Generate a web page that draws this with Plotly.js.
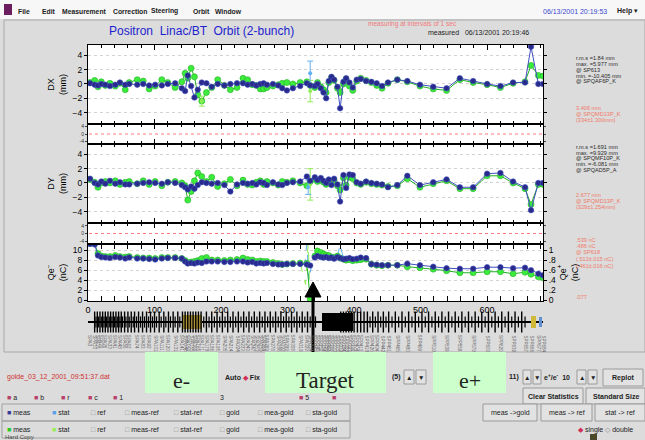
<!DOCTYPE html>
<html><head><meta charset="utf-8">
<script src="https://cdn.plot.ly/plotly-3.0.1.min.js"></script>
<style>html,body{margin:0;padding:0;background:#dcdcdc;overflow:hidden}#chart{width:645px;height:440px}</style>
</head><body><div id="chart"></div>
<script>
// ================= DATA =================
// electron-side BPM positions (m) and readings
const eX=[3,10,15,20,26,33,41,48,56,62,74,83,92,101,111,120,131,141,146,150,155,160,165,171,178,186,195,205,214,224,233,240,247,253,259,264,269,278,286,292,299,308,319,329,334];
const eDXb=[0.1,-0.1,-0.2,0.0,-0.1,-0.3,-0.1,0.2,-0.1,0.0,-0.1,0.0,-0.2,-0.1,-0.2,0.0,0.1,-0.6,-1.0,1.2,-0.3,-1.9,-0.8,0.2,0.1,-0.4,0.0,-0.2,0.0,0.1,0.1,-0.1,0.0,-0.2,0.0,0.1,-0.1,0.0,-0.2,-0.6,-0.9,-0.6,-0.3,0.1,-0.2];
const eDXg=[0.2,0.5,-0.4,0.3,-0.2,0.1,-0.3,0.1,-0.8,0.2,0.6,0.4,-0.7,-0.3,0.6,0.2,-0.5,0.3,1.5,0.8,2.2,1.0,-1.5,-2.4,-1.2,-0.5,0.6,-0.2,-0.8,-0.5,0.8,0.6,-0.1,-0.2,-0.7,-0.7,-0.5,-0.3,-0.1,0.1,0.2,0.0,0.2,0.3,-0.2];
const eDYb=[0.6,0.0,-0.2,0.2,-0.1,0.3,-0.1,0.1,-0.2,-0.2,-0.1,0.0,0.1,0.0,-0.1,0.1,0.0,-0.3,-0.6,-0.9,-0.5,-0.8,-0.3,0.1,0.0,-0.1,0.0,-0.3,-1.2,-0.2,0.0,-0.1,0.0,-0.2,0.1,0.0,-0.3,0.1,-0.2,-0.3,0.0,0.1,0.2,0.9,0.3];
const eDYg=[0.5,0.1,-0.6,0.0,0.2,0.0,0.3,-0.2,0.1,0.2,-0.1,0.3,-0.2,0.2,-0.4,0.1,0.2,0.0,-0.4,-2.4,-1.2,0.3,1.4,0.9,0.2,0.8,-0.5,-0.1,0.5,-0.4,0.4,-0.2,-0.3,0.1,0.3,-0.2,0.2,0.0,-0.3,0.2,0.1,0.3,0.0,-0.4,0.2];
const eQb=[11.3,11.2,9.0,8.7,8.6,8.5,8.7,8.6,8.4,8.6,8.4,8.4,8.3,8.2,8.4,8.5,8.5,8.4,7.8,7.4,7.5,7.4,7.6,7.5,7.8,7.8,7.8,7.7,7.7,7.8,7.8,7.6,7.7,7.4,7.5,7.4,7.5,7.3,7.2,7.2,7.3,7.3,7.3,7.2,7.0];
const eQg=[11.4,11.4,9.4,8.9,8.8,8.8,9.0,8.8,8.7,8.8,8.6,8.5,8.5,8.4,8.6,8.6,8.6,8.4,8.0,7.6,7.7,7.8,8.0,8.4,8.6,8.1,8.1,8.0,8.1,8.2,8.5,8.2,8.1,7.8,7.9,7.8,7.8,7.6,7.4,7.2,7.3,7.4,7.5,7.4,0.3];
// positron-side BPM positions and readings
const pX=[341,345,350,354,358,362,366,370,375,379,384,388,393,398,404,410,418,426,434,442,451,465,480,499,519,539,559,579,600,620,639,657,666,677,684];
const pDXb=[-0.3,0.0,-0.6,-1.2,-2.0,0.4,1.0,0.6,-0.4,-3.4,0.3,0.8,0.2,-0.5,0.6,0.7,0.4,0.3,0.1,-0.3,0.2,0.6,0.4,-0.1,-0.4,-0.6,0.8,0.4,0.0,-0.3,0.2,0.2,5.2,0.0,0.0];
const pDXg=[-0.5,0.2,-0.4,-0.8,-1.2,0.2,0.9,0.5,-0.6,-1.2,0.0,0.7,-0.3,-0.9,0.4,0.8,0.5,0.2,-0.2,-0.6,0.1,0.6,0.3,-0.3,-0.7,-0.9,0.6,0.2,-0.1,-0.5,0.1,0.3,2.6,1.2,1.1];
const pDYb=[0.8,0.4,0.7,0.3,0.0,0.5,-0.3,0.6,-0.2,-2.6,1.1,-0.7,1.2,1.1,0.1,-0.1,0.2,0.0,-0.1,-0.2,-0.6,-0.3,1.0,-0.3,0.1,0.5,-0.6,-0.6,1.3,1.4,0.2,-0.6,-3.8,0.0,0.0];
const pDYg=[0.5,0.2,0.4,0.1,-0.2,0.3,0.0,0.4,-0.4,-1.0,0.7,-0.3,0.8,0.6,0.0,-0.2,0.1,-0.1,-0.2,-0.3,-0.5,-0.4,0.6,-0.6,-0.1,0.3,-0.8,-0.8,1.0,1.0,0.0,-0.8,-3.0,-0.2,-0.2];
const pQb=[0.85,0.88,0.86,0.85,0.86,0.84,0.85,0.83,0.86,0.84,0.82,0.83,0.84,0.82,0.83,0.85,0.84,0.72,0.71,0.70,0.70,0.70,0.73,0.70,0.67,0.64,0.63,0.63,0.66,0.66,0.64,0.65,0.60,0.53,0.50];
const pQg=[0.88,0.98,0.95,0.92,0.90,0.89,0.86,0.85,0.88,0.84,0.82,0.80,0.81,0.79,0.80,0.81,0.82,0.72,0.70,0.69,0.70,0.70,0.67,0.65,0.62,0.59,0.55,0.55,0.57,0.57,0.53,0.56,0.52,0.47,0.45];
// statistics (error bars / spikes)
const dxStatBX=[334], dxStatB=[1.5], dxStatBErr=[1.7];
const dxStatGX=[171,334], dxStatG=[-2.4,-1.0], dxStatGErr=[0.7,1.5];
const dyStatBX=[331], dyStatB=[-0.6], dyStatBErr=[1.0];
const dyStatGX=[334], dyStatG=[-0.2], dyStatGErr=[2.2];
const qStatBX=[319,326,329,332,336], qStatB=[7.3,7.4,11.4,3.8,7.0];
const qStatGX=[319,327,331,334], qStatG=[7.5,3.2,11.4,0.3];
const qpStatBX=[375,379,384], qpStatB=[0.86,1.12,0.82];
const qpStatGX=[341,345,350], qpStatG=[0.88,1.10,0.95];
// beamline elements
const tallX=[10,14,18,22,26,30,34,38,42,46,50,55,60,65,70,76,82,88,94,100,107,114,121,128,135,142,146,150,154,158,162,166,170,178,186,194,202,210,218,226,234,242,250,258,266,274,282,290,298,306,314,322,330,338,380,384,388,392,396,400,405,410,415,420,428,436,444,452,462,472,482,492,502,512,522,532,542,552,562,572,582,592,602,612,622,632,642,652];
const shortX=[12,16,20,24,28,32,36,40,44,48,52,57,62,68,73,79,85,91,97,103,110,117,124,131,138,174,182,190,198,206,214,222,230,238,246,254,262,270,278,286,294,302,310,318,326,334,342,424,432,440,448,457,467,477,487,497,507,517,527,537,547,557,567,577,587,597,607,617,627,637,647,657];
const blockX=[156,375,670,680], blockW=[30,46,8,4], blockH=[1.6,2.2,1.4,1.2], blockB=[-0.8,-1.1,-0.7,-0.6];
const blockC=['#b09838','#000000','#d0b838','#6090d0'];

// ================= HELPERS =================
const W=645,H=440, FONT='Liberation Sans, Arial, sans-serif';
const px=x=>x/W, py=y=>1-y/H;
const xd=[px(88),px(543)], XR=[0,684];
function xa(anchor,labels){return {domain:xd,range:XR,anchor:anchor,showline:true,linecolor:'#000',linewidth:1,mirror:'allticks',
  ticks:'inside',ticklen:5,tickcolor:'#000',tick0:0,dtick:100,showticklabels:labels,showgrid:false,zeroline:false,
  minor:{dtick:20,ticks:'inside',ticklen:3,tickcolor:'#000',showgrid:false},tickfont:{size:9,color:'#000'},fixedrange:true};}
function ya(dom,range,dtick,anchor,title){return {domain:dom,range:range,anchor:anchor,tick0:0,dtick:dtick,showline:true,linecolor:'#000',
  mirror:'ticks',ticks:'outside',ticklen:3,tickcolor:'#000',showgrid:true,gridcolor:'#d2d2d2',griddash:'dot',zeroline:false,
  tickfont:{size:8.5,color:'#000'},title:{text:title,font:{size:9,color:'#000'},standoff:4},fixedrange:true};}
function strip(dom,anchor){return {domain:dom,range:[-5.5,5.5],anchor:anchor,tickvals:[-4,0,4],ticktext:['-4','0','4'],
  tickfont:{size:5,color:'#333'},ticks:'outside',ticklen:2,showline:true,linecolor:'#000',mirror:'ticks',showgrid:false,zeroline:false,fixedrange:true};}

const allX=eX.concat(pX);
const T=[];
function meas(x,y,xaN,yaN,fill,lc,sz){T.push({type:'scatter',mode:'lines+markers',x:x,y:y,xaxis:xaN,yaxis:yaN,
  line:{color:lc,width:1},marker:{color:fill,size:sz,line:{color:lc,width:0.6}},hoverinfo:'skip'});}
function errs(x,y,e,xaN,yaN,c){T.push({type:'scatter',mode:'markers',x:x,y:y,xaxis:xaN,yaxis:yaN,marker:{color:c,size:4},
  error_y:{type:'data',array:e,color:c,thickness:1,width:3},hoverinfo:'skip'});}
function spike(x,y,xaN,yaN,c){T.push({type:'scatter',mode:'lines',x:x,y:y,xaxis:xaN,yaxis:yaN,line:{color:c,width:1,dash:'dash'},hoverinfo:'skip'});}

const GF='#3cec3c', GL='#22b022', BF='#2a2a8c', BL='#4050c0', LB='#62b0f0', LG='#90ee55';
// DX
meas(allX,eDXg.concat(pDXg),'x5','y5',GF,GL,6);
errs(dxStatGX,dxStatG,dxStatGErr,'x5','y5',LG);
errs(dxStatBX,dxStatB,dxStatBErr,'x5','y5',LB);
meas(allX,eDXb.concat(pDXb),'x5','y5',BF,BL,5.5);
// DY
meas(allX,eDYg.concat(pDYg),'x3','y3',GF,GL,6);
errs(dyStatGX,dyStatG,dyStatGErr,'x3','y3',LG);
errs(dyStatBX,dyStatB,dyStatBErr,'x3','y3',LB);
meas(allX,eDYb.concat(pDYb),'x3','y3',BF,BL,5.5);
// Charge
spike(qStatGX,qStatG,'x','y',LG); spike(qStatBX,qStatB,'x','y',LB);
spike(qpStatGX,qpStatG,'x','y6',LG); spike(qpStatBX,qpStatB,'x','y6',LB);
meas(eX,eQg,'x','y',GF,GL,6);
meas(pX,pQg,'x','y6',GF,GL,6);
meas(eX,eQb,'x','y',BF,BL,5.5);
meas(pX,pQb,'x','y6',BF,BL,5.5);
// Beamline
T.push({type:'bar',x:blockX,y:blockH,base:blockB,width:blockW,xaxis:'x6',yaxis:'y7',marker:{color:blockC,line:{width:0}},hoverinfo:'skip'});
T.push({type:'scatter',mode:'markers',x:tallX,y:tallX.map(()=>0),xaxis:'x6',yaxis:'y7',marker:{symbol:'line-ns',size:15,line:{color:'#000',width:1.4}},hoverinfo:'skip'});
T.push({type:'scatter',mode:'markers',x:shortX,y:shortX.map(()=>0),xaxis:'x6',yaxis:'y7',marker:{symbol:'line-ns',size:8,line:{color:'#000',width:1.2}},hoverinfo:'skip'});

// ================= SHAPES =================
const S=[];
function R(x0,y0,x1,y1,fill,line,layer){S.push({type:'rect',xref:'paper',yref:'paper',x0:px(x0),x1:px(x1),y0:py(y1),y1:py(y0),
  fillcolor:fill,line:line?{color:line,width:1}:{width:0},layer:layer||'below'});}
R(4,20,645,352,'#dcdcdc','#a8a8a8');
R(0,0,645,19,'#f7f7f7',null);
R(4,4,12,15,'#6b1e5e',null);
R(88,45,543,301,'#ffffff',null);
['y2','y4'].forEach(y=>S.push({type:'line',xref:'paper',yref:y,x0:px(89),x1:px(542),y0:0,y1:0,line:{color:'#ff7a7a',width:1,dash:'dot'},layer:'above'}));
// buttons
const btn=[[404,370,414,384],[416,370,426,384],[523,370,531,384],[533,370,541,384],[577,370,586,384],[588,370,597,384],
  [603,369,643,386],[523,388,583,404],[586,388,645,404],[483,404,537,421],[541,404,592,421],[595,404,645,421]];
btn.forEach(b=>R(b[0],b[1],b[2],b[3],'#e2e2e2','#9a9a9a'));
R(2,404,350,421,'rgba(0,0,0,0)','#a0a0a0'); R(2,421,350,438,'rgba(0,0,0,0)','#a0a0a0');
R(590,434,597,440,'#4a4a2a',null);
// green boxes
R(145,352,218,393,'#ccffcc',null,'above');
R(265,352,386,393,'#ccffcc',null,'above');
R(433,352,506,393,'#ccffcc',null,'above');
// arrow
S.push({type:'line',xref:'paper',yref:'paper',x0:px(313),x1:px(313),y0:py(352),y1:py(296),line:{color:'#000',width:3},layer:'above'});
S.push({type:'path',xref:'paper',yref:'paper',path:`M ${px(305)} ${py(297)} L ${px(321)} ${py(297)} L ${px(313)} ${py(282)} Z`,fillcolor:'#000',line:{color:'#000',width:1},layer:'above'});

// ================= ANNOTATIONS =================
const A=[];
function t(text,x,y,size,color,opt){A.push(Object.assign({text:text,xref:'paper',yref:'paper',x:px(x),y:py(y),xanchor:'left',yanchor:'middle',
  showarrow:false,font:{size:size,color:color||'#000',family:FONT}},opt||{}));}
// menu
[['File',16],['Edit',40],['Measurement',60],['Correction',111],['Steering',149],['Orbit',191],['Window',213]].forEach(m=>t('<b>'+m[0]+'</b>',m[1],11,6.8,'#1a1a1a'));
t('06/13/2001 20:19:53',541,11,7,'#3a4ad0');
t('<b>Help</b> ▾',615,11,7,'#1a1a1a');
t('Positron  Linac/BT  Orbit (2-bunch)',107,31,12,'#1e1ecf');
t('measuring at intervals of 1 sec',366,24,6.5,'#f07878');
t('measured   06/13/2001 20:19:46',426,33,7,'#222');
// statistics text
const K='#2a2a2a', RD='#f07a6a', SF=5.6;
[['r.m.s =1.84 mm',58],['max. =5.977 mm',64],['@ SP613',70],['min. =-10.405 mm',75.5],['@ SPQAF6P_K',81]].forEach(a=>t(a[0],574,a[1],SF,K));
[['3.406 mm',108],['@ SPQMD13P_K',114],['(334±1.300mm)',120]].forEach(a=>t(a[0],574,a[1],SF,RD));
[['r.m.s =1.691 mm',147],['max. =9.929 mm',152.5],['@ SPQMF10P_K',158],['min. =-6.081 mm',164],['@ SPQAD5P_A',169.5]].forEach(a=>t(a[0],574,a[1],SF,K));
[['2.677 mm',195],['@ SPQMD13P_K',201],['(329±1.254mm)',207]].forEach(a=>t(a[0],574,a[1],SF,RD));
[['.539 nC',240],['.486 nC',246],['@ SP618',252],['(.512±.015 nC)',259],['(.461±.016 nC)',266],['.077',297]].forEach(a=>t(a[0],574,a[1],SF,RD));
// beamline labels
allX.forEach((p,i)=>A.push({text:'SP'+(i<eX.length?'A':'P')+Math.round(p),xref:'x6',yref:'paper',x:p,y:py(333),xanchor:'center',yanchor:'top',
  textangle:90,showarrow:false,font:{size:4.5,color:'#666',family:FONT}}));
// bottom controls
t('golde_03_12_2001_09:51:37.dat',5,377,7,'#d03030');
t('<b>Auto</b> <span style="color:#d0305a">◆</span> <b>Fix</b>',223,377,7,'#222');
t('<b>(5)</b>',390,377,7,'#222');
t('<b>11)</b>',507,377,7,'#222');
t('<b>e<sup>+</sup>/e<sup>-</sup>  10</b>',542,377,7,'#222');
[[409,'▲'],[421,'▼'],[527,'▲'],[537,'▼'],[581.5,'▲'],[592.5,'▼']].forEach(a=>t(a[1],a[0],377,6.5,'#222',{xanchor:'center'}));
t('<b>Replot</b>',623,377.5,7,'#222',{xanchor:'center'});
t('<b>Clear Statistics</b>',553,396,7,'#222',{xanchor:'center'});
t('<b>Standard Size</b>',615.5,396,7,'#222',{xanchor:'center'});
t('meas ->gold',510,412.5,7,'#222',{xanchor:'center'});
t('meas -> ref',566.5,412.5,7,'#222',{xanchor:'center'});
t('stat -> ref',620,412.5,7,'#222',{xanchor:'center'});
const MQ='<span style="color:#b8406a">■</span>';
[['a',5],['b',32],['r',59],['c',86],['1',111],['5',297]].forEach(a=>t(MQ+' '+a[0],a[1],397,7,'#222'));
t('3',218,397,7,'#222'); t(MQ+' ',330,397,7,'#222');
const NQ='<span style="color:#3a3a9a">■</span>', LBQ='<span style="color:#5aa0e8">■</span>', GQ='<span style="color:#22cc22">■</span>', LGQ='<span style="color:#99ee55">■</span>', E='<span style="color:#888">□</span>';
function row(y,q1,q2){[[q1+' meas',5],[q2+' stat',50],[E+' ref',89],[E+' meas-ref',123],[E+' stat-ref',172],[E+' gold',218],[E+' mea-gold',256],[E+' sta-gold',304]].forEach(a=>t(a[0],a[1],y,7,'#222'));}
row(412.5,NQ,LBQ); row(429.5,GQ,LGQ);
t('<span style="color:#d0305a">◆</span> single <span style="color:#888">◇</span> double',576,429.5,7,'#222');
t('Hard Copy',3,436.5,6,'#444');
// green box labels
t('e-',181.5,380,22,'#222',{xanchor:'center',font:{size:22,color:'#222',family:'Liberation Serif, Times New Roman, serif'}});
t('Target',325.5,380,23,'#222',{xanchor:'center',font:{size:23,color:'#222',family:'Liberation Serif, Times New Roman, serif'}});
t('e+',469.5,380,22,'#222',{xanchor:'center',font:{size:22,color:'#222',family:'Liberation Serif, Times New Roman, serif'}});

// ================= LAYOUT =================
const layout={width:W,height:H,margin:{l:0,r:0,t:0,b:0},paper_bgcolor:'#dcdcdc',plot_bgcolor:'rgba(0,0,0,0)',showlegend:false,
  font:{family:FONT,size:9,color:'#000'},bargap:0,
  xaxis:xa('y',true),xaxis2:xa('y2',false),xaxis3:xa('y3',false),xaxis4:xa('y4',false),xaxis5:xa('y5',false),
  xaxis6:{domain:xd,range:XR,anchor:'y7',showline:false,showgrid:false,zeroline:false,showticklabels:false,ticks:'',fixedrange:true},
  yaxis:ya([py(301),py(244)],[-0.1,11.3],2,'x','Qe<sup>−</sup><br>(nC)'),
  yaxis2:strip([py(244),py(223)],'x2'),
  yaxis3:ya([py(223),py(144)],[-5.6,5.45],2,'x3','DY<br>(mm)'),
  yaxis4:strip([py(144),py(124)],'x4'),
  yaxis5:ya([py(124),py(45)],[-5.6,5.45],2,'x5','DX<br>(mm)'),
  yaxis6:{overlaying:'y',side:'right',anchor:'x',range:[-0.01,1.12],tickvals:[0,0.2,0.4,0.6,0.8,1],ticktext:['0','.2','.4','.6','.8','1'],
    ticks:'outside',ticklen:3,tickcolor:'#000',showgrid:false,zeroline:false,showline:false,tickfont:{size:8.5,color:'#000'},
    title:{text:'Qe<sup>+</sup><br>(nC)',font:{size:9,color:'#000'},standoff:3},fixedrange:true},
  yaxis7:{domain:[py(333),py(311)],range:[-1.3,1.3],anchor:'x6',showline:false,showgrid:false,showticklabels:false,ticks:'',
    zeroline:true,zerolinecolor:'#000',zerolinewidth:2,fixedrange:true},
  shapes:S,annotations:A};
Plotly.newPlot('chart',T,layout,{staticPlot:true,displayModeBar:false});
</script>
</body></html>
